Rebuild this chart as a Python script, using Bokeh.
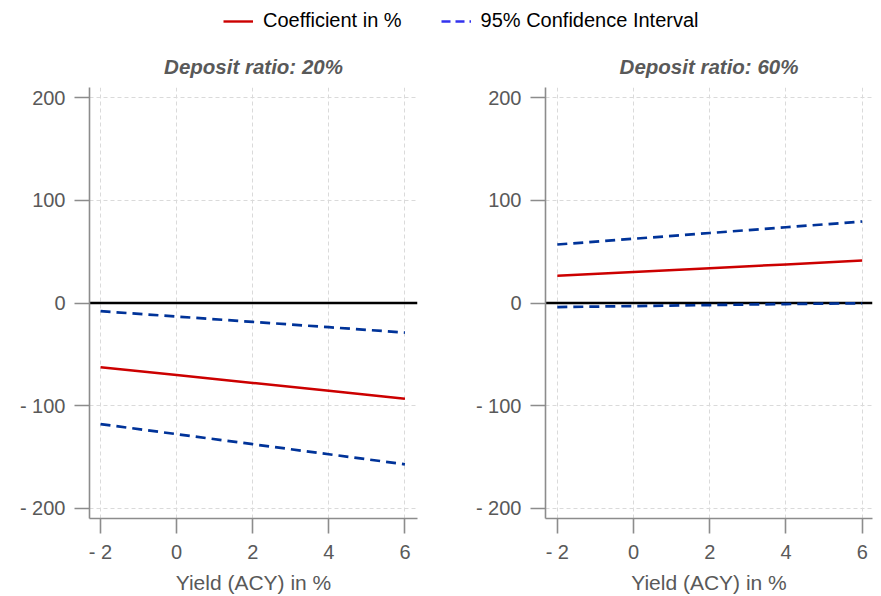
from bokeh.plotting import figure
from bokeh.models import Range1d, FixedTicker, Span, Legend, LegendItem, ColumnDataSource
from bokeh.layouts import column, row
from bokeh.embed import file_html
from bokeh.resources import INLINE

# ---------------- data ----------------
yield_acy = [-2, 0, 2, 4, 6]

# Deposit ratio 20%
coef_20 = [-62.5, -70.2, -77.9, -85.6, -93.3]
upper_20 = [-8.0, -13.2, -18.4, -23.6, -28.8]
lower_20 = [-118.0, -127.8, -137.6, -147.4, -157.2]

# Deposit ratio 60%
coef_60 = [26.5, 30.2, 33.9, 37.6, 41.3]
upper_60 = [57.0, 62.6, 68.2, 73.8, 79.4]
lower_60 = [-4.0, -3.0, -2.0, -1.0, -0.3]

panel_titles = ["Deposit ratio: 20%", "Deposit ratio: 60%"]
x_ticks = [-2, 0, 2, 4, 6]
y_ticks = [-200, -100, 0, 100, 200]
x_tick_labels = {-2: "- 2", 0: "0", 2: "2", 4: "4", 6: "6"}
y_tick_labels = {-200: "- 200", -100: "- 100", 0: "0", 100: "100", 200: "200"}
legend_labels = ["Coefficient in %", "95% Confidence Interval"]
x_label = "Yield (ACY) in %"

FONT = "Liberation Sans"
GREY_TXT = "#595959"
AXIS_COL = "#8c8c8c"
RED = "#cc0000"
BLUE = "#003399"


def make_panel(title, coef, upper, lower, width, left, right, xr):
    p = figure(width=width, height=558, output_backend="svg", toolbar_location=None,
               x_range=Range1d(*xr), y_range=Range1d(-210, 210),
               min_border_left=left, min_border_right=right,
               min_border_top=49, min_border_bottom=78)
    p.outline_line_color = None
    p.background_fill_color = "white"
    p.border_fill_color = "white"

    p.title.text = title
    p.title.align = "center"
    p.title.text_font = FONT
    p.title.text_font_style = "bold italic"
    p.title.text_font_size = "20.5px"
    p.title.text_color = GREY_TXT
    p.title.standoff = 20

    for ax in (p.xaxis[0], p.yaxis[0]):
        ax.axis_line_color = AXIS_COL
        ax.axis_line_width = 1.6
        ax.major_tick_line_color = AXIS_COL
        ax.major_tick_line_width = 1.6
        ax.major_tick_in = 0
        ax.major_tick_out = 15
        ax.minor_tick_line_color = None
        ax.major_label_text_font = FONT
        ax.major_label_text_font_size = "20px"
        ax.major_label_text_color = GREY_TXT
    p.yaxis.major_label_standoff = 9
    p.xaxis.major_label_standoff = 7

    p.xaxis.ticker = FixedTicker(ticks=x_ticks)
    p.yaxis.ticker = FixedTicker(ticks=y_ticks)
    p.xaxis.major_label_overrides = x_tick_labels
    p.yaxis.major_label_overrides = y_tick_labels
    p.xaxis.axis_label = x_label
    p.xaxis.axis_label_text_font = FONT
    p.xaxis.axis_label_text_font_size = "21px"
    p.xaxis.axis_label_text_font_style = "normal"
    p.xaxis.axis_label_text_color = GREY_TXT
    p.xaxis.axis_label_standoff = 5

    for g in (p.xgrid[0], p.ygrid[0]):
        g.grid_line_color = "#dadada"
        g.grid_line_dash = "4 3"
        g.grid_line_width = 1

    p.add_layout(Span(location=0, dimension="width", line_color="black",
                      line_width=2.4, level="underlay"))

    src = ColumnDataSource(dict(x=yield_acy, coef=coef, up=upper, lo=lower))
    p.line("x", "up", source=src, line_color=BLUE, line_width=2.7, line_dash="10 6")
    p.line("x", "lo", source=src, line_color=BLUE, line_width=2.7, line_dash="10 6")
    p.line("x", "coef", source=src, line_color=RED, line_width=2.5)
    return p


p1 = make_panel(panel_titles[0], coef_20, upper_20, lower_20, 440, 89, 23, (-2.29, 6.33))
p2 = make_panel(panel_titles[1], coef_60, upper_60, lower_60, 441, 105, 9, (-2.31, 6.27))

# legend strip (legend-only renderers are kept outside the visible range)
leg = figure(width=881, height=38, output_backend="svg", toolbar_location=None,
             x_range=Range1d(0, 1), y_range=Range1d(0, 1),
             min_border=0, min_border_left=0, min_border_right=0,
             min_border_top=0, min_border_bottom=0)
leg.axis.visible = False
leg.grid.visible = False
leg.outline_line_color = None
r1 = leg.line(x=[-5, -4], y=[-5, -4], line_color=RED, line_width=2.4)
r2 = leg.line(x=[-5, -4], y=[-5, -4], line_color="#3333ee", line_width=2.4, line_dash="9 5")
legend = Legend(items=[LegendItem(label=legend_labels[0], renderers=[r1]),
                       LegendItem(label=legend_labels[1], renderers=[r2])],
                location=(223, 6), orientation="horizontal",
                glyph_width=30, glyph_height=20, label_standoff=10, spacing=39,
                padding=0, margin=0, border_line_color=None,
                background_fill_alpha=0,
                label_text_font=FONT, label_text_font_size="20px",
                label_text_color="black")
leg.add_layout(legend, "center")

layout = column(leg, row(p1, p2))
open("out.html", "w").write(file_html(layout, INLINE))
